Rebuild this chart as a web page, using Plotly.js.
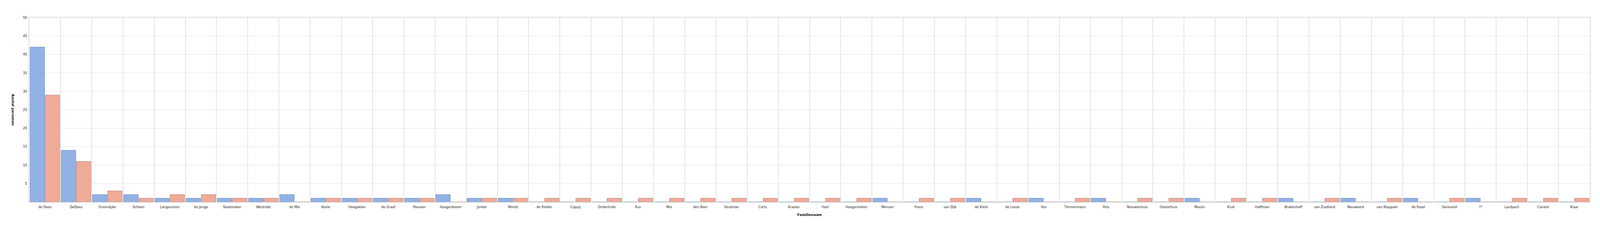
<!DOCTYPE html>
<html>
<head>
<meta charset="utf-8">
<script src="https://cdn.plot.ly/plotly-3.0.1.min.js"></script>
<style>
  html, body { margin: 0; padding: 0; background: #fff; overflow: hidden; }
  #chart { width: 100vw; height: 100vh; }
</style>
</head>
<body>
<div id="chart"></div>
<script>
// family names along the x axis
const familyNames = [
  "de Does", "DeDoes", "Greendyke", "Schoon", "Langoumois", "de Jonge", "Slootmaker", "Westrate",
  "de Moi", "Koole", "Hoogakker", "de Graaf", "Pasveer", "Hoogenboom", "Jonker", "Monté",
  "de Ridder", "Coppij", "Onderlinde", "Rus", "Mol", "den Boer", "Houtman", "Corts", "Kraaier",
  "Hart", "Hoogermolen", "Mensen", "Frens", "van Dijk", "de Klerk", "de Looze", "Vos",
  "Timmermans", "Pels", "Nieuwenhuis", "Oosterhuis", "Moulin", "Kruk", "Halffman", "Brakenhoff", "van Zuidland",
  "Nieuwkerk", "van Bloppoel", "de Raad", "Siereveld", "??", "Laufpach", "Canard", "Klaar"
];

// first (blue) series
const blueCounts = [
  42, 14, 2, 2, 1, 1, 1, 1,
  2, 1, 1, 1, 1, 2, 1, 1,
  0, 0, 0, 0, 0, 0, 0, 0, 0,
  0, 0, 1, 0, 0, 1, 0, 1,
  0, 1, 0, 0, 1, 0, 0, 1, 0,
  1, 0, 1, 0, 1, 0, 0, 0
];

// second (red) series
const redCounts = [
  29, 11, 3, 1, 2, 2, 1, 1,
  0, 1, 1, 1, 1, 0, 1, 1,
  1, 1, 1, 1, 1, 1, 1, 1, 1,
  1, 1, 0, 1, 1, 0, 1, 0,
  1, 0, 1, 1, 0, 1, 1, 0, 1,
  0, 1, 0, 1, 0, 1, 1, 1
];

const yTicks = [5, 10, 15, 20, 25, 30, 35, 40, 45, 50];

// size the chart to whatever window we get, keeping the reference proportions
const W = window.innerWidth || 5126;
const H = window.innerHeight || 594;
const sx = W / 5126;
const sy = H / 594;

const gridColor = "#e4e4e4";
const labelFont = { family: "DejaVu Sans", size: 10.4 * sx, color: "#222" };
const titleFont = { family: "DejaVu Sans", size: 11 * sx, color: "#111", weight: "bold" };

const traces = [
  {
    x: familyNames,
    y: blueCounts,
    type: "bar",
    name: "blauw",
    marker: { color: "#92b2e5", line: { color: "#6a8bbd", width: 1 } },
  },
  {
    x: familyNames,
    y: redCounts,
    type: "bar",
    name: "rood",
    marker: { color: "#efab98", line: { color: "#b5857a", width: 1 } },
  },
];

const margin = {
  l: Math.round(94 * sx),
  r: Math.round(32 * sx),
  t: Math.round(45 * sy),
  b: Math.round(77 * sy),
};
const plotW = W - margin.l - margin.r;
const plotH = H - margin.t - margin.b;

const layout = {
  width: W,
  height: H,
  margin: margin,
  paper_bgcolor: "#fff",
  plot_bgcolor: "#fff",
  showlegend: false,
  barmode: "group",
  bargap: 0.03,
  bargroupgap: 0.04,
  font: labelFont,
  xaxis: {
    type: "category",
    tickson: "boundaries",
    ticks: "",
    showgrid: true,
    gridcolor: gridColor,
    gridwidth: 2,
    showline: true,
    linecolor: "#dcdcdc",
    linewidth: 2,
    mirror: true,
    tickangle: 0,
    tickfont: labelFont,
    ticklabelstandoff: 4,
  },
  yaxis: {
    range: [0, 50],
    tickvals: yTicks,
    ticktext: yTicks.map(String),
    ticks: "",
    showgrid: true,
    gridcolor: gridColor,
    gridwidth: 1,
    zeroline: false,
    showline: true,
    linecolor: "#dcdcdc",
    linewidth: 2,
    mirror: true,
    tickfont: labelFont,
    ticklabelstandoff: 2,
  },
  annotations: [
    {
      text: "Aantal personen",
      textangle: 90,
      xref: "paper",
      yref: "paper",
      x: -52 * sx / plotW,
      y: 0.5,
      xanchor: "center",
      yanchor: "middle",
      showarrow: false,
      font: titleFont,
    },
    {
      text: "Familienaam",
      xref: "paper",
      yref: "paper",
      x: 0.5,
      y: -33 * sy / plotH,
      xanchor: "center",
      yanchor: "middle",
      showarrow: false,
      font: titleFont,
    },
  ],
};

Plotly.newPlot("chart", traces, layout, { displayModeBar: false, staticPlot: true });
</script>
</body>
</html>
